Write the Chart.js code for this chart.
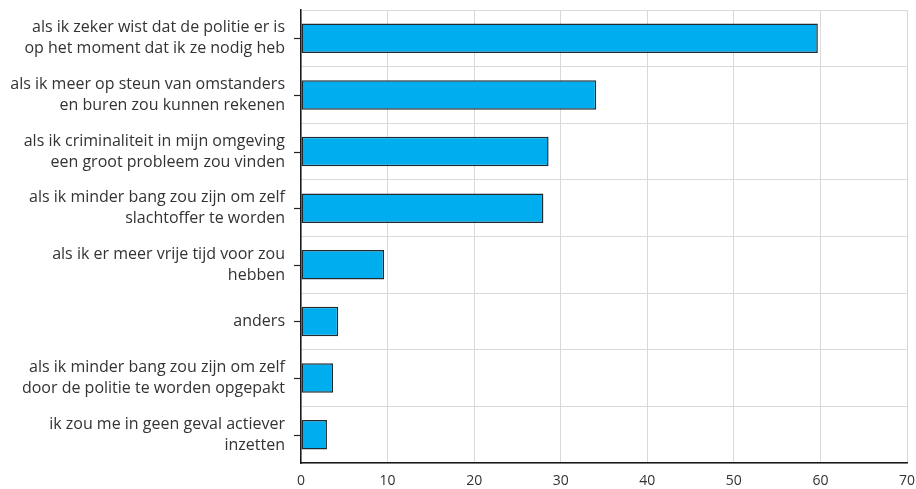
<!DOCTYPE html>
<html>
<head>
<meta charset="utf-8">
<script src="https://cdn.jsdelivr.net/npm/chart.js@4"></script>
<style>
  html, body { margin: 0; padding: 0; background: #fff; }
  #wrap { width: 916px; height: 489px; }
</style>
</head>
<body>
<div id="wrap"><canvas id="chart" width="916" height="489"></canvas></div>
<script>
// categorieën (twee regels per label)
const categorieen = [
    ['als ik zeker wist dat de politie er is', 'op het moment dat ik ze nodig heb'],
    ['als ik meer op steun van omstanders', 'en buren zou kunnen rekenen'],
    ['als ik criminaliteit in mijn omgeving', 'een groot probleem zou vinden'],
    ['als ik minder bang zou zijn om zelf', 'slachtoffer te worden'],
    ['als ik er meer vrije tijd voor zou', 'hebben'],
    ['anders'],
    ['als ik minder bang zou zijn om zelf', 'door de politie te worden opgepakt'],
    ['ik zou me in geen geval actiever', 'inzetten']
];
const percentages = [59.7, 34.1, 28.6, 28.0, 9.6, 4.3, 3.7, 3.0];
const xTicks = [0, 10, 20, 30, 40, 50, 60, 70];

const lettertype = '"Open Sans", "Noto Sans", sans-serif';

// korte streepjes links van de y-as, midden van elke categorie
const tickStreepjes = {
    id: 'tickStreepjes',
    afterDraw(chart) {
        const y = chart.scales.y;
        const c = chart.ctx;
        c.save();
        c.strokeStyle = '#222';
        c.lineWidth = 1.2;
        y.ticks.forEach((_, i) => {
            const py = Math.round(y.getPixelForTick(i)) + 0.5;
            c.beginPath();
            c.moveTo(y.right - 7, py);
            c.lineTo(y.right, py);
            c.stroke();
        });
        c.restore();
    }
};

const ctx = document.getElementById('chart').getContext('2d');
new Chart(ctx, {
    type: 'bar',
    data: {
        labels: categorieen,
        datasets: [{
            data: percentages,
            backgroundColor: '#00aeef',
            borderColor: '#1f2a30',
            borderWidth: 1.5,
            borderSkipped: false,
            barPercentage: 0.52,
            categoryPercentage: 1
        }]
    },
    options: {
        indexAxis: 'y',
        responsive: false,
        animation: false,
        layout: { padding: { top: 10, right: 9, left: 0, bottom: 0 } },
        plugins: {
            legend: { display: false },
            tooltip: { enabled: false }
        },
        scales: {
            x: {
                min: 0,
                max: 70,
                afterBuildTicks: (axis) => { axis.ticks = xTicks.map(v => ({ value: v })); },
                afterFit: (axis) => {
                    axis.height = 26;
                    axis.paddingLeft = 0;
                    axis.paddingRight = 0;
                },
                grid: { color: '#d9d9d9', lineWidth: 1, drawTicks: false },
                border: { display: true, color: '#1a1a1a', width: 1.5 },
                ticks: {
                    padding: 10,
                    color: '#333',
                    font: { family: lettertype, size: 14 }
                }
            },
            y: {
                afterFit: (axis) => {
                    axis.width = 301;
                    axis.paddingTop = 0;
                    axis.paddingBottom = 0;
                },
                grid: { display: false, drawTicks: false },
                border: { display: true, color: '#1a1a1a', width: 1.5 },
                ticks: {
                    padding: 16,
                    color: '#333',
                    font: { family: lettertype, size: 16, lineHeight: 1.3 }
                }
            },
            yLijnen: {
                type: 'category',
                position: 'right',
                labels: categorieen,
                afterFit: (axis) => {
                    axis.width = 0;
                    axis.paddingTop = 0;
                    axis.paddingBottom = 0;
                },
                grid: { offset: true, drawOnChartArea: true, drawTicks: false, color: '#d9d9d9', lineWidth: 1 },
                border: { display: false },
                ticks: { display: false }
            }
        }
    },
    plugins: [tickStreepjes]
});
</script>
</body>
</html>
